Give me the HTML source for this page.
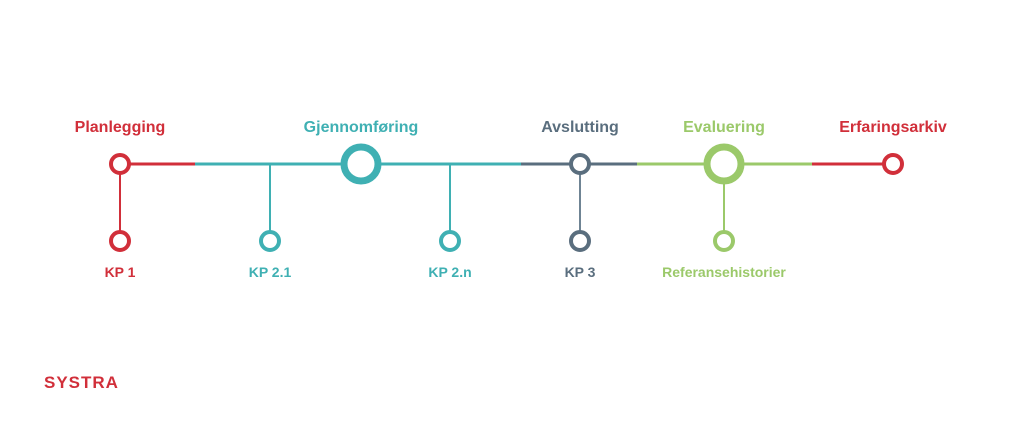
<!DOCTYPE html>
<html><head><style>body{margin:0;background:#fff}svg{display:block}</style></head><body>
<svg width="1024" height="441" viewBox="0 0 1024 441" xmlns="http://www.w3.org/2000/svg" font-family="Liberation Sans, sans-serif" font-weight="bold">
<rect width="1024" height="441" fill="#fff"/>
<g stroke-width="3" fill="none">
<line x1="120" y1="164" x2="195" y2="164" stroke="#d12f3a"/>
<line x1="195" y1="164" x2="521" y2="164" stroke="#3fb0b3"/>
<line x1="521" y1="164" x2="637" y2="164" stroke="#5a6e7e"/>
<line x1="637" y1="164" x2="812" y2="164" stroke="#9bc96a"/>
<line x1="812" y1="164" x2="893" y2="164" stroke="#d12f3a"/>
<line x1="120" y1="164" x2="120" y2="241" stroke="#d12f3a" stroke-width="2"/>
<line x1="270" y1="164" x2="270" y2="241" stroke="#3fb0b3" stroke-width="2"/>
<line x1="450" y1="164" x2="450" y2="241" stroke="#3fb0b3" stroke-width="2"/>
<line x1="580" y1="164" x2="580" y2="241" stroke="#6f8494" stroke-width="2"/>
<line x1="724" y1="164" x2="724" y2="241" stroke="#9bc96a" stroke-width="2"/>
</g>
<g fill="#fff" stroke-width="4">
<circle cx="120" cy="164" r="9" stroke="#d12f3a"/>
<circle cx="361" cy="164" r="17" stroke="#3fb0b3" stroke-width="7"/>
<circle cx="580" cy="164" r="9" stroke="#5a6e7e"/>
<circle cx="724" cy="164" r="17" stroke="#9bc96a" stroke-width="7"/>
<circle cx="893" cy="164" r="9" stroke="#d12f3a"/>
<circle cx="120" cy="241" r="9" stroke="#d12f3a"/>
<circle cx="270" cy="241" r="9" stroke="#3fb0b3"/>
<circle cx="450" cy="241" r="9" stroke="#3fb0b3"/>
<circle cx="580" cy="241" r="9" stroke="#5a6e7e"/>
<circle cx="724" cy="241" r="9" stroke="#9bc96a"/>
</g>
<g font-size="16" text-anchor="middle">
<text x="120" y="132" fill="#d12f3a">Planlegging</text>
<text x="361" y="132" fill="#3fb0b3">Gjennomføring</text>
<text x="580" y="132" fill="#5a6e7e">Avslutting</text>
<text x="724" y="132" fill="#9bc96a">Evaluering</text>
<text x="893" y="132" fill="#d12f3a">Erfaringsarkiv</text>
</g>
<g font-size="14" text-anchor="middle">
<text x="120" y="277" fill="#d12f3a">KP 1</text>
<text x="270" y="277" fill="#3fb0b3">KP 2.1</text>
<text x="450" y="277" fill="#3fb0b3">KP 2.n</text>
<text x="580" y="277" fill="#5a6e7e">KP 3</text>
<text x="724" y="277" fill="#9bc96a">Referansehistorier</text>
</g>
<text x="44" y="388" font-size="17" fill="#d12f3a" letter-spacing="1">SYSTRA</text>
</svg>
</body></html>
